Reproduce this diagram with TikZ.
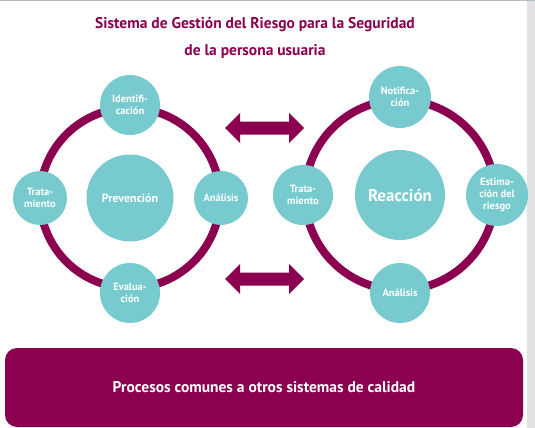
\documentclass[tikz,border=0pt]{standalone}
\usepackage{fontspec}
\setmainfont{PT Sans}
\definecolor{mag}{HTML}{8B004F}
\definecolor{tealc}{HTML}{77CBCE}
\definecolor{strip}{HTML}{E2E2E4}
\definecolor{topline}{HTML}{B4BAC2}
\tikzset{
  small/.style={circle, fill=tealc, inner sep=0pt, text=white, align=center,
    font=\fontsize{10.5}{12}\selectfont\bfseries},
  big/.style={circle, fill=tealc, inner sep=0pt, text=white, align=center},
  ring/.style={draw=mag, line width=8pt},
  dbl/.style={fill=mag}
}
\begin{document}
\begin{tikzpicture}[x=1pt,y=-1pt]
\useasboundingbox (0,0) rectangle (535,428);
\fill[white] (0,0) rectangle (535,428);
\fill[strip] (527,0) rectangle (535,428);
\fill[topline] (0,0) rectangle (535,1.5);
% title
\node[text=mag, font=\fontsize{15.5}{18}\selectfont\bfseries, align=center] (title1) at (255,25) {Sistema de Gestión del Riesgo para la Seguridad};
\node[text=mag, font=\fontsize{15.5}{18}\selectfont\bfseries, align=center] (title2) at (255,52) {de la persona usuaria};
% left cycle
\coordinate (lc) at (130,198);
\draw[ring] (lc) circle[radius=90];
\node[big, minimum size=87pt, font=\fontsize{12}{13}\selectfont\bfseries] (prev) at (lc) {Prevención};
\node[small, minimum size=60pt] (ident) at (130,105) {Identifi-\\cación};
\node[small, minimum size=54pt] (trat1) at (40,198) {Trata-\\miento};
\node[small, minimum size=54pt] (anal1) at (221,198) {Análisis};
\node[small, minimum size=60pt] (eval) at (130,293) {Evalua-\\ción};
% right cycle
\coordinate (rc) at (400,195);
\draw[ring] (rc) circle[radius=95];
\node[big, minimum size=90pt, font=\fontsize{17}{18}\selectfont\bfseries] (reac) at (rc) {Reacción};
\node[small, minimum size=62pt] (notif) at (400,97) {Notifica-\\ción};
\node[small, minimum size=60pt] (trat2) at (303,195) {Trata-\\miento};
\node[small, minimum size=62pt] (estim) at (497,195) {Estima-\\ción del\\riesgo};
\node[small, minimum size=60pt] (anal2) at (400,293) {Análisis};
% arrows
\fill[dbl] (225,128) -- (240,113) -- (240,121.5) -- (289,121.5) -- (289,113) -- (304,128) -- (289,143) -- (289,134.5) -- (240,134.5) -- (240,143) -- cycle;
\fill[dbl] (225,279) -- (240,264) -- (240,272.5) -- (289,272.5) -- (289,264) -- (304,279) -- (289,294) -- (289,285.5) -- (240,285.5) -- (240,294) -- cycle;
% bottom box
\node[fill=mag, rounded corners=12pt, minimum width=518pt, minimum height=79pt, inner sep=0pt,
  text=white, font=\fontsize{15.5}{18}\selectfont\bfseries] (procs) at (264,387.5) {Procesos comunes a otros sistemas de calidad};
\end{tikzpicture}
\end{document}
